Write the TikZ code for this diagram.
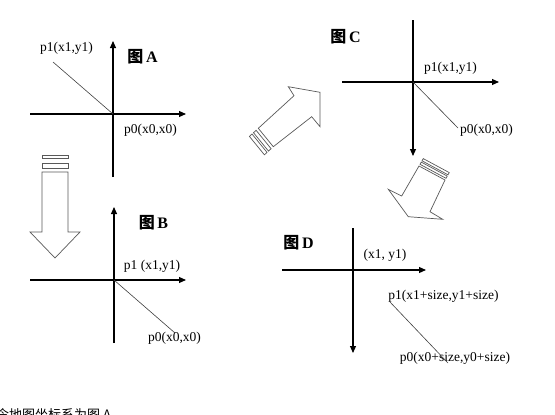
\documentclass[tikz,border=0pt]{standalone}
\usepackage{fontspec}
\setmainfont{Liberation Serif}
\newfontfamily\cjk{Noto Sans CJK SC}
\usetikzlibrary{arrows.meta}
\begin{document}
\begin{tikzpicture}[
        x=1pt, y=-1pt,
        axis/.style={draw, line width=1.1pt, -{Triangle[length=7pt,width=6pt]}},
        diag/.style={draw=black!75, line width=0.6pt},
        lbl/.style={inner sep=0pt, font=\fontsize{13.5}{15}\selectfont},
        fig/.style={inner sep=0pt, font=\fontsize{16}{18}\selectfont\bfseries},
        blockarrow/.style={draw=black!65, line width=0.7pt, line join=miter},
    ]
    \useasboundingbox[fill=white] (0,0) rectangle (555,415);

    % figure A
    \coordinate (oA) at (113,114);
    \coordinate (leftA) at (30,114);
    \coordinate (rightA) at (186,114);
    \coordinate (topA) at (113,41);
    \coordinate (botA) at (113,177);
    \coordinate (p1A) at (53,62);
    \path[axis] (leftA) -- (rightA);
    \path[axis] (botA) -- (topA);
    \path[diag] (oA) -- (p1A);
    \node[lbl](lblp1A) at (66.5,48){p1(x1,y1)};
    \node[lbl](lblp0A) at (150.5,130){p0(x0,x0)};
    \node[fig](titleA) at (142.5,57){{\cjk 图}\,A};

    % figure B
    \coordinate (oB) at (114,280);
    \coordinate (leftB) at (30,280);
    \coordinate (rightB) at (186,280);
    \coordinate (topB) at (114,207);
    \coordinate (botB) at (114,343);
    \coordinate (p0B) at (175,333);
    \path[axis] (leftB) -- (rightB);
    \path[axis] (botB) -- (topB);
    \path[diag] (oB) -- (p0B);
    \node[lbl](lblp1B) at (152,266){p1 (x1,y1)};
    \node[lbl](lblp0B) at (174.5,338){p0(x0,x0)};
    \node[fig](titleB) at (153.5,223){{\cjk 图}\,B};

    % figure C
    \coordinate (oC) at (413,82);
    \coordinate (leftC) at (342,82);
    \coordinate (rightC) at (499,82);
    \coordinate (topC) at (413,20);
    \coordinate (botC) at (413,156);
    \coordinate (p0C) at (458,128);
    \path[axis] (leftC) -- (rightC);
    \path[axis] (topC) -- (botC);
    \path[diag] (oC) -- (p0C);
    \node[lbl](lblp1C) at (450.5,68){p1(x1,y1)};
    \node[lbl](lblp0C) at (486.5,130){p0(x0,x0)};
    \node[fig](titleC) at (345.5,37){{\cjk 图}\,C};

    % figure D
    \coordinate (leftD) at (282,270);
    \coordinate (rightD) at (426,270);
    \coordinate (topD) at (353,228);
    \coordinate (botD) at (353,353);
    \coordinate (p1D) at (390,302);
    \coordinate (p0D) at (448,363);
    \path[axis] (leftD) -- (rightD);
    \path[axis] (topD) -- (botD);
    \node[lbl](lblxyD) at (385,255){(x1, y1)};
    \node[lbl](lblp1D) at (443.5,296){p1(x1+size,y1+size)};
    \node[lbl](lblp0D) at (455,358){p0(x0+size,y0+size)};
    \path[diag] (p1D) -- (p0D);
    \node[fig](titleD) at (298.5,243){{\cjk 图}\,D};

    % block arrows between the figures
    \draw[blockarrow] (42,172) -- (42,232) -- (30,232) -- (55,258) -- (80,232) -- (68,232) -- (68,172) -- cycle;
    \draw[blockarrow] (42,163) rectangle (68,168);
    \draw[blockarrow] (42,155) rectangle (68,158);

    \draw[blockarrow] (258.3,128.3) -- (294,95.7) -- (288.3,86.7) -- (320,92.3) -- (320,126.7) -- (311.7,116.7) -- (273.3,146.7) -- cycle;
    \draw[blockarrow] (256.1,130.3) -- (271.1,148.7) -- (268.5,151.1) -- (253.5,132.7) -- cycle;
    \draw[blockarrow] (252.0,134.0) -- (267.0,152.4) -- (264.4,154.8) -- (249.4,136.4) -- cycle;

    \draw[blockarrow] (419,166) -- (401.7,196) -- (388.3,189.3) -- (408.3,216.7) -- (442.7,219.3) -- (430,211.7) -- (445,180) -- cycle;
    \draw[blockarrow] (420,164.3) -- (446,178.3) -- (447.25,176.1) -- (421.25,162.1) -- cycle;
    \draw[blockarrow] (422,160.8) -- (448,174.8) -- (449.25,172.6) -- (423.25,158.6) -- cycle;

    % caption line, cut by the lower edge
    \node[inner sep=0pt, anchor=base west, font=\cjk\fontsize{13}{15}\selectfont](caption) at (-4,419){令地图坐标系为图 A};
\end{tikzpicture}
\end{document}
